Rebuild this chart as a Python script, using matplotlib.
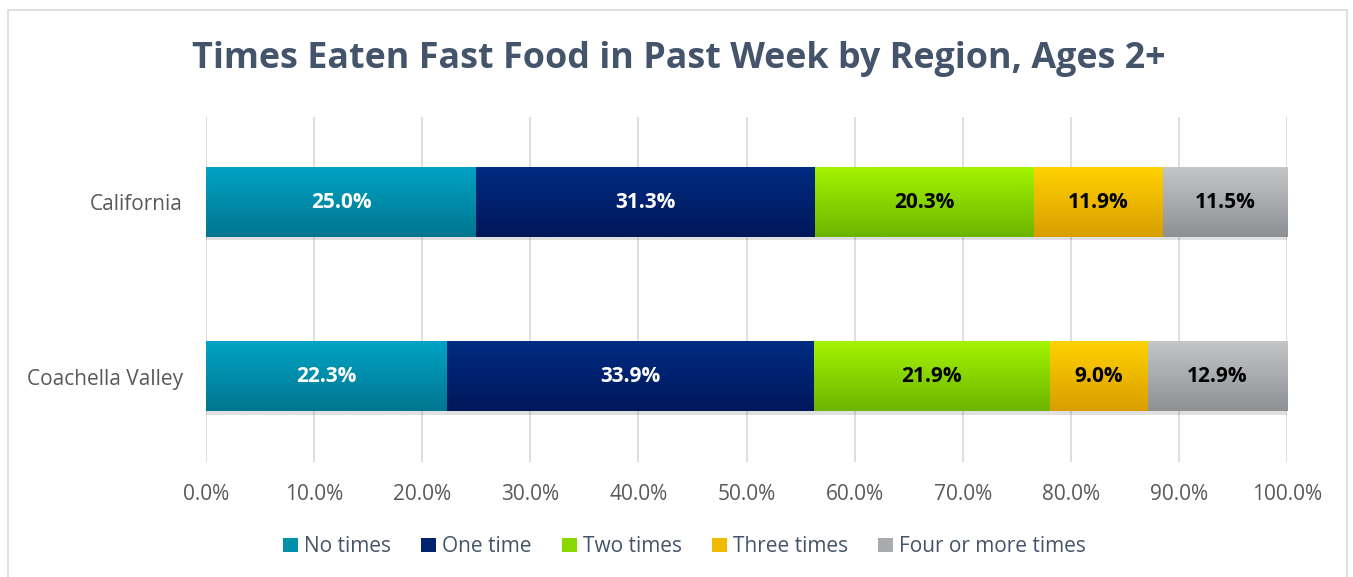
import numpy as np
import matplotlib.pyplot as plt
from matplotlib.colors import LinearSegmentedColormap
from matplotlib.patches import Rectangle

regions = ['Coachella Valley', 'California']
series = ['No times', 'One time', 'Two times', 'Three times', 'Four or more times']
values = {
    'No times': [22.3, 25.0],
    'One time': [33.9, 31.3],
    'Two times': [21.9, 20.3],
    'Three times': [9.0, 11.9],
    'Four or more times': [12.9, 11.5],
}
# (top, bottom) of each bar's vertical gradient
grad = {
    'No times': ('#00A3C4', '#007690'),
    'One time': ('#002C82', '#00175A'),
    'Two times': ('#A4F400', '#6CB400'),
    'Three times': ('#FFD200', '#DA9E00'),
    'Four or more times': ('#C3C5C7', '#8E9194'),
}
label_color = {'No times': 'white', 'One time': 'white', 'Two times': 'black',
               'Three times': 'black', 'Four or more times': 'black'}
swatch = {'No times': '#0090AD', 'One time': '#00226F', 'Two times': '#8AD800',
          'Three times': '#F0BA00', 'Four or more times': '#A9ABAE'}

plt.rcParams['font.family'] = ['Open Sans', 'DejaVu Sans']

fig = plt.figure(figsize=(13.53, 5.77), dpi=100)
fig.patches.append(Rectangle((8 / 1353, -0.01), 1339 / 1353, 1 - 10 / 577 + 0.01,
                             transform=fig.transFigure, fill=False,
                             edgecolor='#D9D9D9', linewidth=1.2))
ax = fig.add_axes([206 / 1353, 115 / 577, 1081 / 1353, 345 / 577])

ypos = np.arange(len(regions))
h = 0.40
left = np.zeros(len(regions))
for s in series:
    vals = np.array(values[s])
    cmap = LinearSegmentedColormap.from_list(s, [grad[s][0], grad[s][1]])
    for y, l, v in zip(ypos, left, vals):
        # soft drop shadow
        ax.add_patch(Rectangle((l, y - h / 2 - 0.018), v, 0.02, facecolor='#000000',
                               alpha=0.12, edgecolor='none', zorder=2))
        g = np.linspace(0, 1, 64).reshape(-1, 1)
        ax.imshow(g, cmap=cmap, aspect='auto', origin='upper',
                  extent=[l, l + v, y - h / 2, y + h / 2], zorder=3)
        ax.text(l + v / 2, y, f'{v:.1f}%', ha='center', va='center',
                fontsize=15, fontweight='bold', color=label_color[s], zorder=4)
    left += vals

ax.set_xlim(0, 100)
ax.set_ylim(-0.49, 1.49)
ax.set_xticks(np.arange(0, 101, 10))
ax.set_xticklabels([f'{t:.1f}%' for t in range(0, 101, 10)])
ax.set_yticks(ypos)
ax.set_yticklabels(regions)
ax.tick_params(axis='both', length=0, labelsize=15, labelcolor='#595959')
ax.tick_params(axis='x', pad=16)
ax.tick_params(axis='y', pad=16.5)
ax.grid(axis='x', color='#D9D9D9', linewidth=1.2, zorder=0)
ax.set_axisbelow(True)
for sp in ax.spines.values():
    sp.set_visible(False)

fig.text(0.502, 0.898, 'Times Eaten Fast Food in Past Week by Region, Ages 2+',
         ha='center', va='center', fontsize=25.8, fontweight='bold', color='#44546A')

handles = [Rectangle((0, 0), 1, 1, facecolor=swatch[s]) for s in series]
fig.legend(handles, series, loc='center', bbox_to_anchor=(0.506, 0.052), ncol=5,
           frameon=False, fontsize=15, labelcolor='#44546A', handlelength=0.7,
           handleheight=0.7, handletextpad=0.3, columnspacing=1.45)

fig.savefig('out.png', dpi=100)
